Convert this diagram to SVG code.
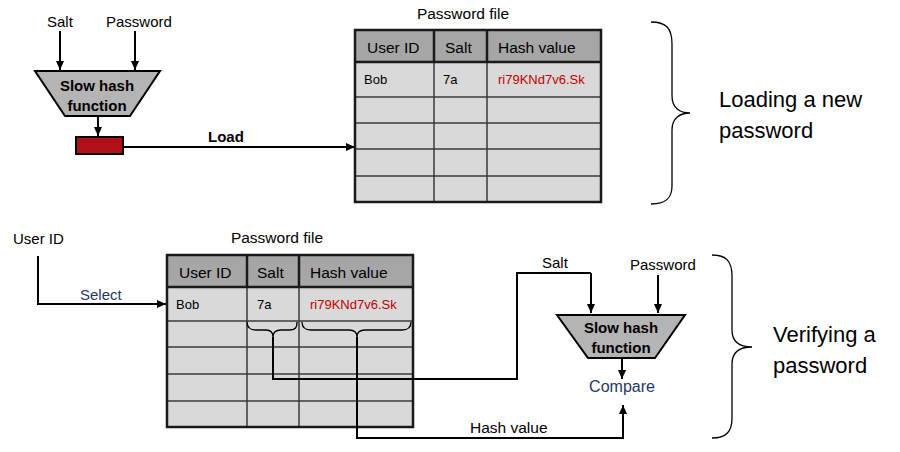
<svg xmlns="http://www.w3.org/2000/svg" width="900" height="452" viewBox="0 0 900 452">
<style>
text{font-family:"Liberation Sans",Arial,sans-serif;fill:#000}
.lbl{font-size:15px}
.hdr{font-size:15.5px}
.cell{font-size:13px}
.red{fill:#c00000}
.navy{fill:#1f3864}
.bold{font-weight:bold}
.big{font-size:22px}
.conn{fill:none;stroke:#000;stroke-width:2}
.brace{fill:none;stroke:#000;stroke-width:1.3}
.hfill{fill:#a6a6a6}
.bfill{fill:#d9d9d9}
.inner{stroke:#3a3a3a;stroke-width:1.5}
.outer{fill:none;stroke:#1a1a1a;stroke-width:2.5}
.trap{fill:#b4b4b4;stroke:#000;stroke-width:2}
</style>
<defs>
<marker id="ah" markerWidth="10" markerHeight="10" refX="9" refY="5" orient="auto" markerUnits="userSpaceOnUse">
<path d="M0,1 L9,5 L0,9 Z" fill="#000"/>
</marker>
</defs>

<g id="connectors">
<line class="conn" x1="60" y1="31" x2="60" y2="70" marker-end="url(#ah)"/>
<line class="conn" x1="135" y1="31" x2="135" y2="70" marker-end="url(#ah)"/>
<line class="conn" x1="98" y1="116" x2="98" y2="136" marker-end="url(#ah)"/>
<line class="conn" x1="123" y1="147" x2="355" y2="147" marker-end="url(#ah)"/>
<text class="lbl bold" x="208" y="142">Load</text>
<polyline class="conn" points="38,256 38,304 166,304" marker-end="url(#ah)"/>
<text class="lbl navy" x="80" y="300">Select</text>
<line class="conn" x1="591" y1="273" x2="591" y2="313" marker-end="url(#ah)"/>
<line class="conn" x1="658" y1="275" x2="658" y2="313" marker-end="url(#ah)"/>
<line class="conn" x1="622" y1="358" x2="622" y2="379" marker-end="url(#ah)"/>
</g>

<g id="load-input-salt"><text class="lbl" x="47" y="27">Salt</text></g>
<g id="load-input-password"><text class="lbl" x="106" y="27">Password</text></g>

<g id="load-hash-function">
<polygon class="trap" points="35,71 160,71 130,116 65,116"/>
<text class="lbl bold" x="97" y="91" text-anchor="middle">Slow hash</text>
<text class="lbl bold" x="97" y="111" text-anchor="middle">function</text>
</g>

<g id="hash-output">
<rect x="76" y="137" width="47" height="17" fill="#b01016" stroke="#000" stroke-width="2"/>
</g>

<g id="password-file-top">
<text x="463" y="19" text-anchor="middle" style="font-size:15.5px">Password file</text>
<rect class="hfill" x="355" y="30" width="246" height="32"/>
<rect class="bfill" x="355" y="62" width="246" height="140"/>
<line class="inner" x1="355" y1="97" x2="601" y2="97"/>
<line class="inner" x1="355" y1="123" x2="601" y2="123"/>
<line class="inner" x1="355" y1="149" x2="601" y2="149"/>
<line class="inner" x1="355" y1="176" x2="601" y2="176"/>
<line class="inner" x1="434" y1="62" x2="434" y2="202"/>
<line class="inner" x1="487" y1="62" x2="487" y2="202"/>
<line x1="434" y1="30" x2="434" y2="62" stroke="#1a1a1a" stroke-width="2.5"/>
<line x1="487" y1="30" x2="487" y2="62" stroke="#1a1a1a" stroke-width="2.5"/>
<line x1="355" y1="62" x2="601" y2="62" stroke="#1a1a1a" stroke-width="2.5"/>
<rect class="outer" x="355" y="30" width="246" height="172"/>
<text class="hdr" x="367" y="53">User ID</text>
<text class="hdr" x="445" y="53">Salt</text>
<text class="hdr" x="498" y="53">Hash value</text>
<text class="cell" x="364" y="84">Bob</text>
<text class="cell" x="443" y="84">7a</text>
<text class="cell red" x="498" y="84">ri79KNd7v6.Sk</text>
</g>

<g id="brace-loading">
<path class="brace" d="M651,22 C666,22 672,28 672,44 L672,96 C672,108 680,113 690,113 C680,113 672,118 672,130 L672,186 C672,198 666,204 651,204"/>
<text class="big" x="719" y="107">Loading a new</text>
<text class="big" x="719" y="138">password</text>
</g>

<g id="verify-input-userid"><text class="lbl" x="13" y="244">User ID</text></g>

<g id="password-file-bottom">
<text x="277" y="243" text-anchor="middle" style="font-size:15.5px">Password file</text>
<rect class="hfill" x="167" y="255" width="246" height="32"/>
<rect class="bfill" x="167" y="287" width="246" height="140"/>
<line class="inner" x1="167" y1="321" x2="413" y2="321"/>
<line class="inner" x1="167" y1="347" x2="413" y2="347"/>
<line class="inner" x1="167" y1="374" x2="413" y2="374"/>
<line class="inner" x1="167" y1="401" x2="413" y2="401"/>
<line class="inner" x1="247" y1="287" x2="247" y2="427"/>
<line class="inner" x1="299" y1="287" x2="299" y2="427"/>
<line x1="247" y1="255" x2="247" y2="287" stroke="#1a1a1a" stroke-width="2.5"/>
<line x1="299" y1="255" x2="299" y2="287" stroke="#1a1a1a" stroke-width="2.5"/>
<line x1="167" y1="287" x2="413" y2="287" stroke="#1a1a1a" stroke-width="2.5"/>
<rect class="outer" x="167" y="255" width="246" height="172"/>
<text class="hdr" x="179" y="278">User ID</text>
<text class="hdr" x="257" y="278">Salt</text>
<text class="hdr" x="310" y="278">Hash value</text>
<text class="cell" x="176" y="309">Bob</text>
<text class="cell" x="257" y="309">7a</text>
<text class="cell red" x="310" y="309">ri79KNd7v6.Sk</text>
<path class="brace" d="M247,322 C247,328 250,330 256,330 L266,330 C271,330 273,332 273,337 C273,332 276,330 281,330 L289,330 C295,330 297,328 297,322"/>
<path class="brace" d="M302,322 C302,328 305,330 311,330 L349,330 C354,330 357,332 357,337 C357,332 360,330 365,330 L402,330 C408,330 411,328 411,322"/>
</g>

<g id="verify-connectors">
<polyline class="conn" points="273,337 273,379 517,379 517,273 591,273"/>
<text class="lbl" x="542" y="268">Salt</text>
<polyline class="conn" points="357,337 357,438 623,438 623,405" marker-end="url(#ah)"/>
<text class="lbl" style="font-size:15.5px" x="470" y="433">Hash value</text>
</g>

<g id="verify-input-password"><text class="lbl" x="630" y="270">Password</text></g>

<g id="verify-hash-function">
<polygon class="trap" points="557,315 685,315 655,358 588,358"/>
<text class="lbl bold" x="621" y="333" text-anchor="middle">Slow hash</text>
<text class="lbl bold" x="621" y="353" text-anchor="middle">function</text>
</g>

<g id="compare"><text class="navy" style="font-size:16px" x="622" y="392" text-anchor="middle">Compare</text></g>

<g id="brace-verifying">
<path class="brace" d="M712,255 C726,255 732,261 732,276 L732,330 C732,342 740,347 752,347 C740,347 732,352 732,364 L732,418 C732,432 726,438 712,438"/>
<text class="big" x="773" y="342">Verifying a</text>
<text class="big" x="773" y="373">password</text>
</g>
</svg>
